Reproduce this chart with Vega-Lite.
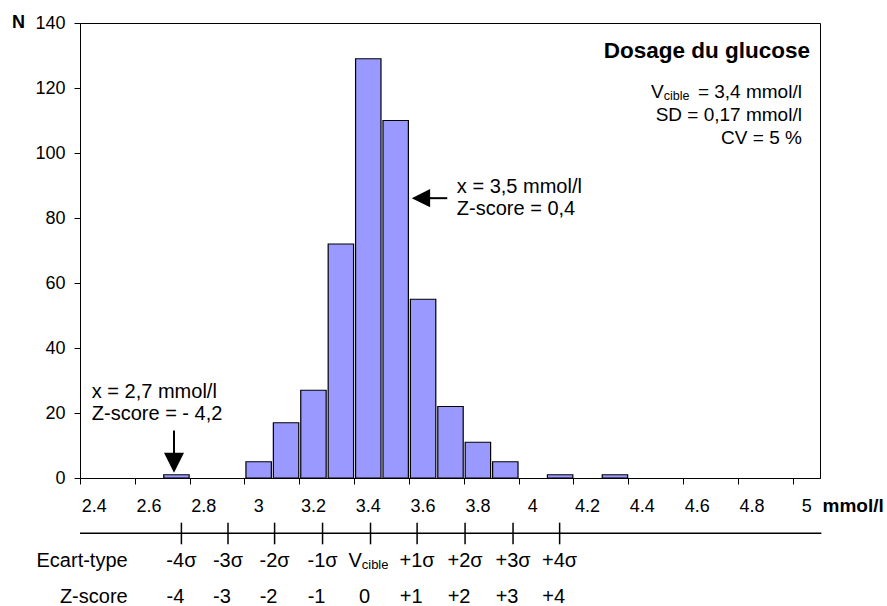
{
  "$schema": "https://vega.github.io/schema/vega-lite/v6.json",
  "width": 740,
  "height": 455,
  "autosize": {"type": "none"},
  "padding": {"left": 80, "top": 23, "right": 67, "bottom": 128},
  "background": "white",
  "config": {
    "font": "Liberation Sans",
    "view": {"stroke": "black", "strokeWidth": 1},
    "axis": {"domainColor": "black", "tickColor": "black", "labelColor": "black", "titleColor": "black", "grid": false, "labelFont": "Liberation Sans", "titleFont": "Liberation Sans", "domainWidth": 1, "tickWidth": 1}
  },
  "datasets": {
    "bars": [
      {"lo": 2.65, "hi": 2.75, "n": 1},
      {"lo": 2.95, "hi": 3.05, "n": 5},
      {"lo": 3.05, "hi": 3.15, "n": 17},
      {"lo": 3.15, "hi": 3.25, "n": 27},
      {"lo": 3.25, "hi": 3.35, "n": 72},
      {"lo": 3.35, "hi": 3.45, "n": 129},
      {"lo": 3.45, "hi": 3.55, "n": 110},
      {"lo": 3.55, "hi": 3.65, "n": 55},
      {"lo": 3.65, "hi": 3.75, "n": 22},
      {"lo": 3.75, "hi": 3.85, "n": 11},
      {"lo": 3.85, "hi": 3.95, "n": 5},
      {"lo": 4.05, "hi": 4.15, "n": 1},
      {"lo": 4.25, "hi": 4.35, "n": 1}
    ],
    "sigma": [
      {"x": 2.72, "s": "-4σ", "z": "-4"},
      {"x": 2.89, "s": "-3σ", "z": "-3"},
      {"x": 3.06, "s": "-2σ", "z": "-2"},
      {"x": 3.235, "s": "-1σ", "z": "-1"},
      {"x": 3.41, "s": "", "z": "0"},
      {"x": 3.58, "s": "+1σ", "z": "+1"},
      {"x": 3.755, "s": "+2σ", "z": "+2"},
      {"x": 3.93, "s": "+3σ", "z": "+3"},
      {"x": 4.1, "s": "+4σ", "z": "+4"}
    ],
    "one": [{}]
  },
  "layer": [
    {
      "data": {"name": "bars"},
      "mark": {"type": "bar", "fill": "#9999FF", "stroke": "black", "strokeWidth": 1.2, "binSpacing": 2},
      "encoding": {
        "x": {
          "field": "lo", "type": "quantitative", "bin": "binned",
          "scale": {"domain": [2.35, 5.05], "nice": false, "zero": false},
          "axis": {
            "values": [2.35, 2.45, 2.55, 2.65, 2.75, 2.85, 2.95, 3.05, 3.15, 3.25, 3.35, 3.45, 3.55, 3.65, 3.75, 3.85, 3.95, 4.05, 4.15, 4.25, 4.35, 4.45, 4.55, 4.65, 4.75, 4.85, 4.95, 5.05],
            "labelExpr": "round((datum.value-2.35)*10) % 2 == 0 && datum.value < 5 ? format(datum.value+0.05, '.1~f') : ''",
            "labelOffset": 13.7,
            "labelFontSize": 18,
            "labelPadding": 13,
            "labelOverlap": false,
            "labelFlush": false,
            "labelBound": false,
            "tickSize": 6,
            "title": "mmol/l",
            "titleFontSize": 19,
            "titleFontWeight": "bold",
            "titleAlign": "left",
            "titleBaseline": "middle",
            "titleX": 742,
            "titleY": 27
          }
        },
        "x2": {"field": "hi"},
        "y": {
          "field": "n", "type": "quantitative",
          "scale": {"domain": [0, 140], "nice": false},
          "axis": {
            "values": [0, 20, 40, 60, 80, 100, 120, 140],
            "labelFontSize": 18,
            "labelPadding": 9,
            "tickSize": 6,
            "title": "N",
            "titleAngle": 0,
            "titleFontSize": 18,
            "titleFontWeight": "bold",
            "titleAlign": "center",
            "titleBaseline": "middle",
            "titleX": -62,
            "titleY": -1
          }
        }
      }
    },
    {
      "data": {"name": "one"},
      "mark": {"type": "rule", "color": "black", "strokeWidth": 1.5},
      "encoding": {
        "x": {"datum": 2.35, "type": "quantitative"},
        "x2": {"datum": 5.055},
        "y": {"datum": -17, "type": "quantitative"}
      }
    },
    {
      "data": {"name": "sigma"},
      "mark": {"type": "rule", "color": "black", "strokeWidth": 1.5},
      "encoding": {
        "x": {"field": "x", "type": "quantitative"},
        "y": {"datum": -13.75, "type": "quantitative"},
        "y2": {"datum": -20.4}
      }
    },
    {
      "data": {"name": "sigma"},
      "mark": {"type": "text", "fontSize": 20, "align": "center", "baseline": "alphabetic", "color": "black"},
      "encoding": {
        "x": {"field": "x", "type": "quantitative"},
        "y": {"datum": -27.3, "type": "quantitative"},
        "text": {"field": "s"}
      }
    },
    {
      "data": {"name": "sigma"},
      "mark": {"type": "text", "fontSize": 20, "align": "center", "baseline": "alphabetic", "color": "black", "dx": -6},
      "encoding": {
        "x": {"field": "x", "type": "quantitative"},
        "y": {"datum": -38.6, "type": "quantitative"},
        "text": {"field": "z"}
      }
    },
    {
      "data": {"name": "one"},
      "mark": {"type": "text", "text": "V", "fontSize": 20, "align": "right", "baseline": "alphabetic", "color": "black"},
      "encoding": {
        "x": {"datum": 3.378, "type": "quantitative"},
        "y": {"datum": -27.3, "type": "quantitative"}
      }
    },
    {
      "data": {"name": "one"},
      "mark": {"type": "text", "text": "cible", "fontSize": 13, "align": "left", "baseline": "alphabetic", "color": "black", "dy": 2},
      "encoding": {
        "x": {"datum": 3.378, "type": "quantitative"},
        "y": {"datum": -27.3, "type": "quantitative"}
      }
    },
    {
      "data": {"name": "one"},
      "mark": {"type": "text", "text": "Ecart-type", "fontSize": 20, "align": "right", "baseline": "alphabetic", "color": "black"},
      "encoding": {
        "x": {"datum": 2.524, "type": "quantitative"},
        "y": {"datum": -27.3, "type": "quantitative"}
      }
    },
    {
      "data": {"name": "one"},
      "mark": {"type": "text", "text": "Z-score", "fontSize": 20, "align": "right", "baseline": "alphabetic", "color": "black"},
      "encoding": {
        "x": {"datum": 2.524, "type": "quantitative"},
        "y": {"datum": -38.6, "type": "quantitative"}
      }
    },
    {
      "data": {"name": "one"},
      "mark": {"type": "text", "text": "Dosage du glucose", "fontSize": 22.5, "fontWeight": "bold", "align": "right", "baseline": "alphabetic", "color": "black"},
      "encoding": {
        "x": {"datum": 5.014, "type": "quantitative"},
        "y": {"datum": 129.1, "type": "quantitative"}
      }
    },
    {
      "data": {"name": "one"},
      "mark": {"type": "text", "text": "V", "fontSize": 19, "align": "right", "baseline": "alphabetic", "color": "black"},
      "encoding": {
        "x": {"datum": 4.48, "type": "quantitative"},
        "y": {"datum": 116.9, "type": "quantitative"}
      }
    },
    {
      "data": {"name": "one"},
      "mark": {"type": "text", "text": "cible", "fontSize": 12.5, "align": "left", "baseline": "alphabetic", "color": "black", "dy": 2},
      "encoding": {
        "x": {"datum": 4.48, "type": "quantitative"},
        "y": {"datum": 116.9, "type": "quantitative"}
      }
    },
    {
      "data": {"name": "one"},
      "mark": {"type": "text", "text": "= 3,4 mmol/l", "fontSize": 19, "align": "right", "baseline": "alphabetic", "color": "black"},
      "encoding": {
        "x": {"datum": 4.984, "type": "quantitative"},
        "y": {"datum": 116.9, "type": "quantitative"}
      }
    },
    {
      "data": {"name": "one"},
      "mark": {"type": "text", "text": "SD = 0,17 mmol/l", "fontSize": 19, "align": "right", "baseline": "alphabetic", "color": "black"},
      "encoding": {
        "x": {"datum": 4.984, "type": "quantitative"},
        "y": {"datum": 109.9, "type": "quantitative"}
      }
    },
    {
      "data": {"name": "one"},
      "mark": {"type": "text", "text": "CV = 5 %", "fontSize": 19, "align": "right", "baseline": "alphabetic", "color": "black"},
      "encoding": {
        "x": {"datum": 4.984, "type": "quantitative"},
        "y": {"datum": 102.9, "type": "quantitative"}
      }
    },
    {
      "data": {"name": "one"},
      "mark": {"type": "text", "text": "x = 3,5 mmol/l", "fontSize": 20, "align": "left", "baseline": "alphabetic", "color": "black"},
      "encoding": {
        "x": {"datum": 3.725, "type": "quantitative"},
        "y": {"datum": 87.6, "type": "quantitative"}
      }
    },
    {
      "data": {"name": "one"},
      "mark": {"type": "text", "text": "Z-score = 0,4", "fontSize": 20, "align": "left", "baseline": "alphabetic", "color": "black"},
      "encoding": {
        "x": {"datum": 3.725, "type": "quantitative"},
        "y": {"datum": 80.9, "type": "quantitative"}
      }
    },
    {
      "data": {"name": "one"},
      "mark": {"type": "text", "text": "x = 2,7 mmol/l", "fontSize": 20, "align": "left", "baseline": "alphabetic", "color": "black"},
      "encoding": {
        "x": {"datum": 2.393, "type": "quantitative"},
        "y": {"datum": 24.5, "type": "quantitative"}
      }
    },
    {
      "data": {"name": "one"},
      "mark": {"type": "text", "text": "Z-score = - 4,2", "fontSize": 20, "align": "left", "baseline": "alphabetic", "color": "black"},
      "encoding": {
        "x": {"datum": 2.393, "type": "quantitative"},
        "y": {"datum": 17.85, "type": "quantitative"}
      }
    },
    {
      "data": {"name": "one"},
      "mark": {"type": "rule", "color": "black", "strokeWidth": 2},
      "encoding": {
        "x": {"datum": 3.62, "type": "quantitative"},
        "x2": {"datum": 3.69},
        "y": {"datum": 86.1, "type": "quantitative"}
      }
    },
    {
      "data": {"name": "one"},
      "mark": {"type": "point", "shape": "M-1,0L1,-1L1,1Z", "size": 338, "filled": true, "color": "black", "opacity": 1},
      "encoding": {
        "x": {"datum": 3.594, "type": "quantitative"},
        "y": {"datum": 86.1, "type": "quantitative"}
      }
    },
    {
      "data": {"name": "one"},
      "mark": {"type": "rule", "color": "black", "strokeWidth": 2},
      "encoding": {
        "x": {"datum": 2.693, "type": "quantitative"},
        "y": {"datum": 14.6, "type": "quantitative"},
        "y2": {"datum": 7}
      }
    },
    {
      "data": {"name": "one"},
      "mark": {"type": "point", "shape": "M0,1L-1,-1L1,-1Z", "size": 400, "filled": true, "color": "black", "opacity": 1},
      "encoding": {
        "x": {"datum": 2.693, "type": "quantitative"},
        "y": {"datum": 4.68, "type": "quantitative"}
      }
    }
  ]
}
